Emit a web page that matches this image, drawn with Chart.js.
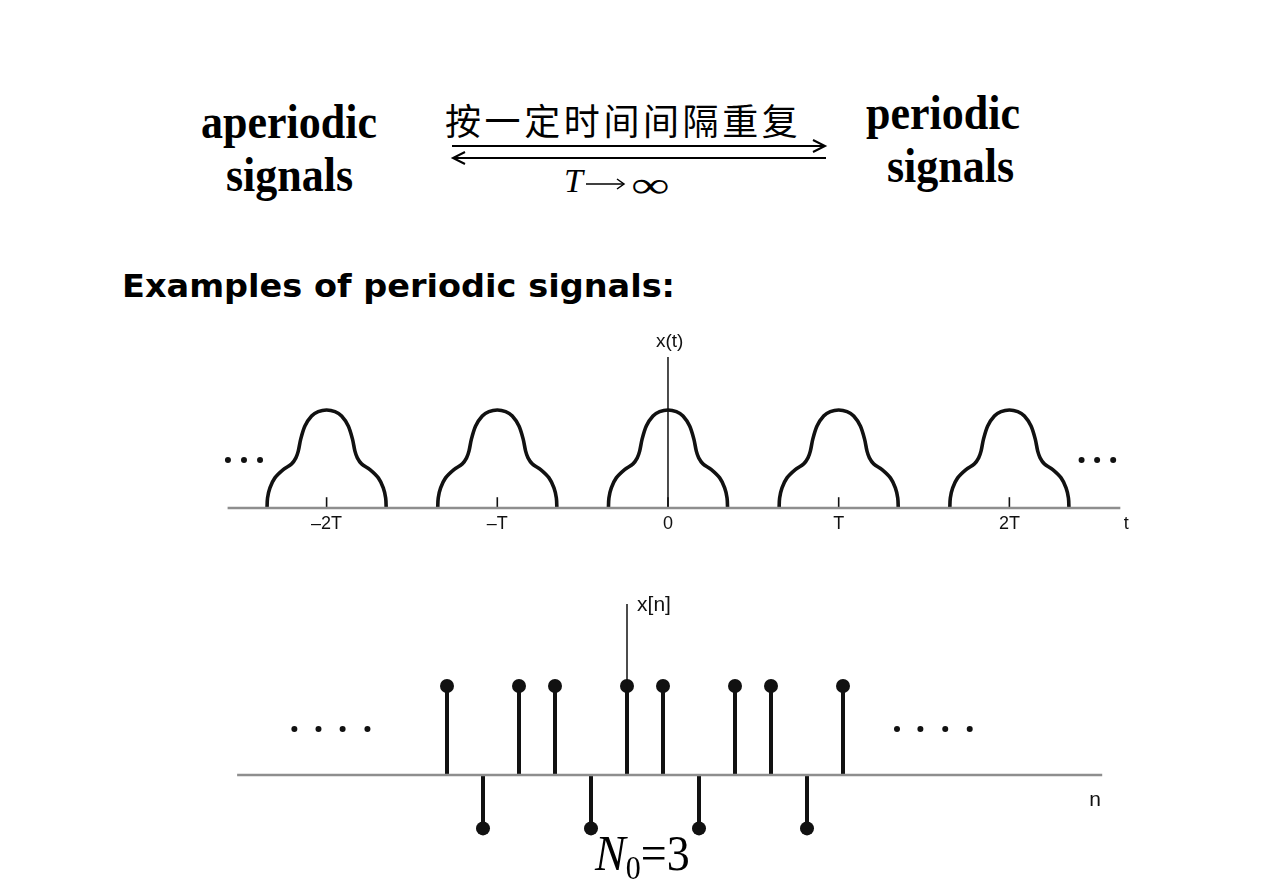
<!DOCTYPE html>
<html>
<head>
<meta charset="utf-8">
<script src="https://cdn.jsdelivr.net/npm/chart.js@4.4.0/dist/chart.umd.min.js"></script>
<style>
html, body { margin: 0; padding: 0; background: #fff; }
body { width: 1280px; height: 886px; position: relative; overflow: hidden; }
.txt { position: absolute; white-space: nowrap; line-height: 1; color: #000; }
.serif { font-family: "Liberation Serif", "DejaVu Serif", serif; }
.big { font-size: 44px; font-weight: bold; transform: scaleY(1.1); transform-origin: 0 84%; }
.cjk { font-family: "Noto Sans CJK SC", sans-serif; font-size: 36px; letter-spacing: 3.6px; }
.comic { font-family: "DejaVu Sans", sans-serif; font-weight: bold; font-size: 32px; transform-origin: 0 50%; }
canvas { position: absolute; }
</style>
</head>
<body>
<div class="txt serif big" style="left:201px; top:102px;">aperiodic</div>
<div class="txt serif big" style="left:226px; top:155px;">signals</div>
<div class="txt serif big" style="left:866px; top:93px;">periodic</div>
<div class="txt serif big" style="left:887px; top:146px;">signals</div>
<div class="txt cjk" style="left:445px; top:101px;">按一定时间间隔重复</div>
<svg style="position:absolute; left:0; top:0;" width="1280" height="220">
  <g stroke="#000" stroke-width="2" fill="none">
    <line x1="452" y1="146" x2="825" y2="146"/>
    <polyline points="813,140 825,146 813,152"/>
    <line x1="453" y1="158" x2="826" y2="158"/>
    <polyline points="465,152 453,158 465,164"/>
  </g>
</svg>
<div class="txt serif" style="left:564px; top:164px; font-size:34px;"><i>T</i></div>
<svg style="position:absolute; left:584px; top:174px;" width="44" height="20">
  <g stroke="#000" stroke-width="1.5" fill="none">
    <line x1="2" y1="10" x2="40" y2="10"/>
    <polyline points="33,5 40,10 33,15"/>
  </g>
</svg>
<div class="txt serif" style="left:631px; top:167px; font-size:36px; transform:scaleX(1.5); transform-origin:0 50%;">&#8734;</div>
<div id="examples" class="txt comic" style="left:122px; top:270px;">Examples of periodic signals:</div>

<canvas id="ctChart" width="960" height="210" style="left:200px; top:330px; width:960px; height:210px;"></canvas>
<canvas id="dtChart" width="900" height="300" style="left:220px; top:580px; width:900px; height:300px;"></canvas>

<div class="txt serif" style="left:595px; top:832px; font-size:46px; transform:scaleY(1.1); transform-origin:0 84%;"><i>N</i><span style="font-size:30px; position:relative; top:8px;">0</span>=3</div>

<script>
// ---- continuous-time periodic signal x(t) ----
const periods = [-2, -1, 0, 1, 2];
const tickLabels = ['\u20132T', '\u2013T', '0', 'T', '2T'];
// right half of one pulse: offset from its centre (in T) and height
const pulseDt = [0, 0.049, 0.088, 0.127, 0.152, 0.166, 0.18, 0.205, 0.254, 0.303, 0.332, 0.346, 0.349];
const pulseH  = [1, 0.983, 0.938, 0.836, 0.70, 0.58, 0.512, 0.45, 0.392, 0.307, 0.205, 0.102, 0];
const ctAxisT = [-2.58, 2.65];
const ctDotsT = [-2.578, -2.484, -2.39, 2.423, 2.514, 2.608];
const ctDotsH = 0.49;

// ---- discrete-time periodic signal x[n], N0 = 3 ----
const nVals  = [-5, -4, -3, -2, -1, 0, 1, 2, 3, 4, 5, 6];
const xnVals = [1, -0.6, 1, 1, -0.6, 1, 1, -0.6, 1, 1, -0.6, 1];
const dtAxisN = [-10.83, 13.2];
const dtDotsN = [-9.24, -8.57, -7.9, -7.21, 7.5, 8.15, 8.84, 9.52];
const dtDotsH = 0.517;

Chart.defaults.animation = false;
Chart.defaults.plugins.legend.display = false;
Chart.defaults.plugins.tooltip.enabled = false;

const axisGrey = '#8e8e8e';
const ink = '#111';

// fit the comic-style heading to its width in the slide
(function () {
    const el = document.getElementById('examples');
    const w = el.getBoundingClientRect().width;
    el.style.transform = 'scaleX(' + (553 / w) + ')';
})();

function pulse(k) {
    const pts = [];
    for (let i = pulseDt.length - 1; i > 0; i--) pts.push({ x: k - pulseDt[i], y: pulseH[i] });
    for (let i = 0; i < pulseDt.length; i++) pts.push({ x: k + pulseDt[i], y: pulseH[i] });
    return pts;
}

function seg(x1, y1, x2, y2, color, width) {
    return {
        data: [{ x: x1, y: y1 }, { x: x2, y: y2 }],
        showLine: true, borderColor: color, borderWidth: width, pointRadius: 0
    };
}

// text drawn at data positions
function labelPlugin(items) {
    return {
        id: 'labels',
        afterDatasetsDraw(chart) {
            const ctx = chart.ctx;
            const sx = chart.scales.x, sy = chart.scales.y;
            ctx.save();
            ctx.fillStyle = '#111';
            ctx.textBaseline = 'middle';
            items.forEach(it => {
                ctx.font = it.font;
                ctx.textAlign = it.align || 'center';
                ctx.fillText(it.text, sx.getPixelForValue(it.x), sy.getPixelForValue(it.y));
            });
            ctx.restore();
        }
    };
}

const ctDatasets = [];
ctDatasets.push(seg(ctAxisT[0], 0, ctAxisT[1], 0, axisGrey, 2.5));
ctDatasets.push(seg(0, 0, 0, 1.54, ink, 1.5));
periods.forEach(k => ctDatasets.push(seg(k, 0, k, 0.11, ink, 1.6)));
periods.forEach(k => ctDatasets.push({
    data: pulse(k), showLine: true, borderColor: ink, borderWidth: 3.6,
    tension: 0.3, pointRadius: 0
}));
ctDatasets.push({
    data: ctDotsT.map(t => ({ x: t, y: ctDotsH })),
    pointRadius: 3, backgroundColor: ink, borderWidth: 0
});

const tickFont = '18px "Liberation Sans", Arial, sans-serif';
const ctLabels = periods.map((k, i) => ({ text: tickLabels[i], x: k, y: -0.165, font: tickFont }));
ctLabels.push({ text: 'x(t)', x: 0.01, y: 1.70, font: '19px "Liberation Sans", Arial, sans-serif' });
ctLabels.push({ text: 't', x: 2.684, y: -0.165, font: tickFont });

new Chart(document.getElementById('ctChart'), {
    type: 'scatter',
    data: { datasets: ctDatasets },
    options: {
        responsive: false,
        layout: { padding: 0, autoPadding: false },
        scales: {
            x: { type: 'linear', display: false, min: -2.7417, max: 2.8824 },
            y: { type: 'linear', display: false, min: -0.3265, max: 1.8163 }
        }
    },
    plugins: [labelPlugin(ctLabels)]
});

const stemPts = [];
nVals.forEach((n, i) => {
    stemPts.push({ x: n, y: 0 }, { x: n, y: xnVals[i] }, { x: n, y: null });
});

const dtDatasets = [
    seg(dtAxisN[0], 0, dtAxisN[1], 0, axisGrey, 2.5),
    seg(0, 0, 0, 1.92, ink, 1.5),
    { data: stemPts, showLine: true, spanGaps: false, borderColor: ink, borderWidth: 4, pointRadius: 0 },
    { data: nVals.map((n, i) => ({ x: n, y: xnVals[i] })), pointRadius: 7, backgroundColor: ink, borderWidth: 0 },
    { data: dtDotsN.map(n => ({ x: n, y: dtDotsH })), pointRadius: 3, backgroundColor: ink, borderWidth: 0 }
];

const dtLabels = [
    { text: 'x[n]', x: 0.28, y: 1.91, align: 'left', font: '21px "Liberation Sans", Arial, sans-serif' },
    { text: 'n', x: 13.0, y: -0.28, font: '21px "Liberation Sans", Arial, sans-serif' }
];

new Chart(document.getElementById('dtChart'), {
    type: 'scatter',
    data: { datasets: dtDatasets },
    options: {
        responsive: false,
        layout: { padding: 0, autoPadding: false },
        scales: {
            x: { type: 'linear', display: false, min: -11.3056, max: 13.6944 },
            y: { type: 'linear', display: false, min: -1.1798, max: 2.191 }
        }
    },
    plugins: [labelPlugin(dtLabels)]
});
</script>
</body>
</html>
